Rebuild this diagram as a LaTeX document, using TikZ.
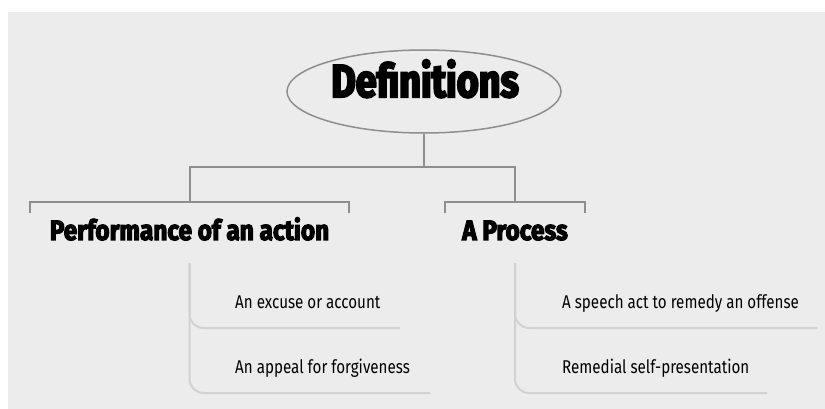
\documentclass[tikz,border=0pt]{standalone}
\usepackage{fontspec}
\usetikzlibrary{shapes.geometric}
\newfontfamily\rootfont[FakeStretch=0.82, BoldFeatures={FakeBold=4.5}]{Fira Sans}
\newfontfamily\headfont[FakeStretch=0.87, BoldFeatures={FakeBold=4}]{Fira Sans}
\newfontfamily\itemfont[FakeStretch=0.82]{Fira Sans}
\definecolor{paper}{HTML}{ECECEC}
\definecolor{stemgray}{HTML}{8E8E8E}
\definecolor{leafgray}{HTML}{D2D2D2}
\tikzset{
  rootshape/.style={ellipse, draw=stemgray, line width=1.5pt, fill=paper,
    minimum width=274pt, minimum height=83pt, inner sep=0pt},
  roottext/.style={anchor=base, inner sep=0pt,
    font=\rootfont\bfseries\fontsize{46}{46}\selectfont},
  branch/.style={anchor=base, inner sep=0pt, font=\headfont\bfseries\fontsize{28}{28}\selectfont},
  leaf/.style={anchor=base west, inner sep=0pt, font=\itemfont\fontsize{18.5}{18.5}\selectfont},
  stem/.style={draw=stemgray, line width=2pt},
  twig/.style={draw=leafgray, line width=2pt, rounded corners=14pt},
}
\begin{document}
\begin{tikzpicture}[x=1pt, y=-1pt]
  \useasboundingbox (0,0) rectangle (825,409);
  \fill[white] (0,0) rectangle (825,409);
  \fill[paper] (8,12) rectangle (825,409);

  % root and the two branches
  \node[rootshape] (def) at (424,91.5) {};
  \node[roottext] (deftext) at (425,97) {Definitions};
  \node[branch] (perf) at (189.5,240) {Performance of an action};
  \node[branch] (proc) at (515,240) {A Process};

  % leaves
  \node[leaf] (excuse) at (235,308) {An excuse or account};
  \node[leaf] (appeal) at (235,373) {An appeal for forgiveness};
  \node[leaf] (speech) at (562,308) {A speech act to remedy an offense};
  \node[leaf] (remedial) at (562,373) {Remedial self-presentation};

  % junction points
  \coordinate (hub) at (424,167);
  \coordinate (barL1) at (30,213);
  \coordinate (barL2) at (349,213);
  \coordinate (barR1) at (445,213);
  \coordinate (barR2) at (585,213);
  \coordinate (barY) at (0,202);
  \coordinate (twigY) at (0,263);
  \coordinate (endExcuse) at (400,328);
  \coordinate (endAppeal) at (430,393);
  \coordinate (endSpeech) at (817,328);
  \coordinate (endRemedial) at (767,393);

  % tree stems
  \draw[stem] (def.south) -- (hub);
  \draw[stem] (perf.north |- barY) -- (perf.north |- hub) -- (proc.north |- hub) -- (proc.north |- barY);
  \draw[stem] (barL1) -- (barL1 |- barY) -- (barL2 |- barY) -- (barL2);
  \draw[stem] (barR1) -- (barR1 |- barY) -- (barR2 |- barY) -- (barR2);

  % leaf underlines
  \draw[twig] (perf.north |- twigY) |- (endExcuse);
  \draw[twig] (perf.north |- twigY) |- (endAppeal);
  \draw[twig] (proc.north |- twigY) |- (endSpeech);
  \draw[twig] (proc.north |- twigY) |- (endRemedial);
\end{tikzpicture}
\end{document}
